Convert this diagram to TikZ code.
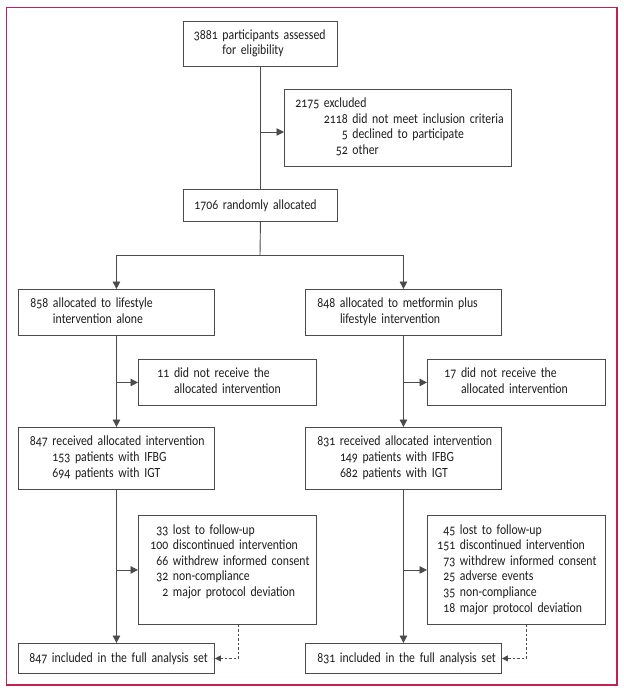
\documentclass[tikz,border=0pt]{standalone}
\usepackage{fontspec}
\setmainfont{Carlito}[Numbers=OldStyle, FakeStretch=0.84]
\usetikzlibrary{arrows.meta}
\definecolor{linegray}{RGB}{75,75,75}
\definecolor{txtcol}{RGB}{30,28,28}
\definecolor{framecol}{RGB}{192,36,78}
\begin{document}
\begin{tikzpicture}[x=1pt,y=-1pt,
  every node/.style={font=\fontsize{14}{15.6}\selectfont, text=txtcol},
  box/.style 2 args={draw=linegray, line width=0.9pt, inner sep=0pt, anchor=north west,
    text width=#1, minimum height=#2, align=left},
  conn/.style={draw=linegray, line width=0.9pt},
  arr/.style={conn, -{Triangle[length=7.5pt,width=7.5pt]}},
  dasharr/.style={conn, line width=0.8pt, dash pattern=on 2.5pt off 2pt, -{Triangle[length=6pt,width=6pt]}}
]
\useasboundingbox (0,0) rectangle (624,694);
\draw[framecol, line width=1.2pt] (6.5,7.5) rectangle (617,685);

% boxes
\node[box={154pt}{45pt}] (T) at (183,21) {\hspace*{10.5pt}\begin{tabular}{@{}l@{ }l@{}}3881 & participants assessed\\ & for eligibility\end{tabular}};
\node[box={227pt}{77pt}] (E) at (284,89) {\hspace*{11pt}\begin{tabular}{@{}l@{ }r@{ }l@{}}2175 & \multicolumn{2}{@{}l@{}}{excluded}\\ & 2118 & did not meet inclusion criteria\\ & 5 & declined to participate\\ & 52 & other\end{tabular}};
\node[box={154pt}{32pt}] (R) at (183,189) {\hspace*{11pt}1706 randomly allocated};

\node[box={196pt}{46pt}] (L1) at (18,289) {\hspace*{12pt}\begin{tabular}{@{}l@{ }l@{}}858 & allocated to lifestyle\\ & intervention alone\end{tabular}};
\node[box={196pt}{46pt}] (R1) at (305,289) {\hspace*{12pt}\begin{tabular}{@{}l@{ }l@{}}848 & allocated to metformin plus\\ & lifestyle intervention\end{tabular}};

\node[box={178pt}{46pt}] (L2) at (138,359) {\hspace*{19pt}\begin{tabular}{@{}l@{ }l@{}}11 & did not receive the\\ & allocated intervention\end{tabular}};
\node[box={178pt}{46pt}] (R2) at (427,359) {\hspace*{17pt}\begin{tabular}{@{}l@{ }l@{}}17 & did not receive the\\ & allocated intervention\end{tabular}};

\node[box={196pt}{62pt}] (L3) at (18,427) {\hspace*{11.5pt}\begin{tabular}{@{}l@{ }l@{}}847 & received allocated intervention\\ & 153 patients with IFBG\\ & 694 patients with IGT\end{tabular}};
\node[box={196pt}{62pt}] (R3) at (305,427) {\hspace*{12pt}\begin{tabular}{@{}l@{ }l@{}}831 & received allocated intervention\\ & 149 patients with IFBG\\ & 682 patients with IGT\end{tabular}};

\node[box={178pt}{109pt}] (L4) at (138,515) {\hspace*{12pt}\begin{tabular}{@{}r@{ }l@{}}33 & lost to follow-up\\ 100 & discontinued intervention\\ 66 & withdrew informed consent\\ 32 & non-compliance\\ 2 & major protocol deviation\\ & \end{tabular}};
\node[box={178pt}{109pt}] (R4) at (427,515) {\hspace*{10pt}\begin{tabular}{@{}r@{ }l@{}}45 & lost to follow-up\\ 151 & discontinued intervention\\ 73 & withdrew informed consent\\ 25 & adverse events\\ 35 & non-compliance\\ 18 & major protocol deviation\end{tabular}};

\node[box={196pt}{30pt}] (L5) at (18,643) {\hspace*{11pt}847 included in the full analysis set};
\node[box={196pt}{30pt}] (R5) at (305,643) {\hspace*{12pt}831 included in the full analysis set};

% connectors
\draw[conn] (T.south) -- (R.north);
\coordinate (tb) at (260,132);
\draw[arr] (tb) -- (tb -| E.west);

\coordinate (split) at (260,255);
\draw[conn] (R.south) -- (split);
\draw[arr] (split) -| (L1.north);
\draw[arr] (split) -| (R1.north);

\draw[arr] (L1.south) -- (L3.north);
\draw[arr] (L1.south |- L2.west) -- (L2.west);
\draw[arr] (R1.south) -- (R3.north);
\draw[arr] (R1.south |- R2.west) -- (R2.west);

\draw[arr] (L3.south) -- (L5.north);
\draw[arr] (L3.south |- L4.west) -- (L4.west);
\draw[arr] (R3.south) -- (R5.north);
\draw[arr] (R3.south |- R4.west) -- (R4.west);

\draw[dasharr] ([xshift=11pt]L4.south) |- (L5.east);
\draw[dasharr] ([xshift=10pt]R4.south) |- (R5.east);
\end{tikzpicture}
\end{document}
